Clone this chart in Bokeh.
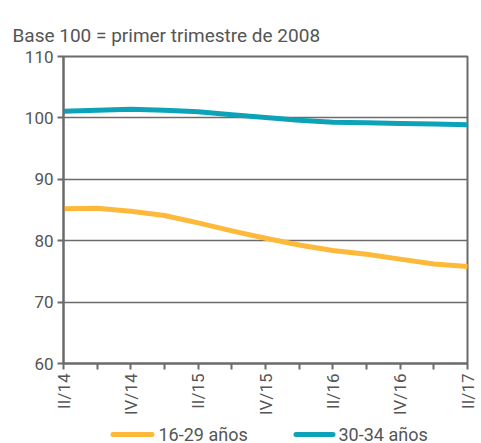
from bokeh.plotting import figure
from bokeh.layouts import column
from bokeh.models import FixedTicker, Range1d
from bokeh.core.properties import value
from bokeh.embed import file_html
from bokeh.resources import INLINE
import math

quarters = ["II/14", "III/14", "IV/14", "I/15", "II/15", "III/15", "IV/15",
            "I/16", "II/16", "III/16", "IV/16", "I/17", "II/17"]
serie_16_29 = [85.2, 85.3, 84.8, 84.1, 82.9, 81.6, 80.4, 79.3, 78.4, 77.8, 77.0, 76.2, 75.8]
serie_30_34 = [101.1, 101.25, 101.4, 101.25, 101.0, 100.5, 100.05, 99.6, 99.3, 99.2, 99.1, 99.0, 98.9]
series_names = ["16-29 años", "30-34 años"]
y_ticks = [60, 70, 80, 90, 100, 110]
title_text = "Base 100 = primer trimestre de 2008"

x = list(range(len(quarters)))
FONT = "Roboto"
TXT = "#555555"
AX = "#6b6b6b"
C_ORANGE = "#FDB93A"
C_TEAL = "#0CA3B9"

W = 481
H_MAIN = 421
H_LEG = 443 - H_MAIN
B_LEFT, B_RIGHT = 63, 14

# main chart
p = figure(width=W, height=H_MAIN, output_backend="svg", toolbar_location=None,
           x_range=Range1d(0, len(quarters) - 1), y_range=Range1d(60, 110),
           min_border_left=B_LEFT, min_border_right=B_RIGHT, min_border_top=56, min_border_bottom=58)
p.title.text = title_text
p.title.align = "left"
p.title.offset = -51
p.title.standoff = 20
p.title.text_font = FONT
p.title.text_font_size = "19px"
p.title.text_color = TXT
p.title.text_font_style = "normal"

p.line(x, serie_16_29, line_color=C_ORANGE, line_width=5, line_join="round", line_cap="round")
p.line(x, serie_30_34, line_color=C_TEAL, line_width=5, line_join="round", line_cap="round")

p.xaxis.ticker = FixedTicker(ticks=x)
p.xaxis.major_label_overrides = {i: (q if i % 2 == 0 else "") for i, q in zip(x, quarters)}
p.xaxis.major_label_orientation = math.pi / 2
p.yaxis.ticker = FixedTicker(ticks=y_ticks)
for ax in (p.xaxis, p.yaxis):
    ax.axis_line_color = AX
    ax.axis_line_width = 2
    ax.major_tick_line_color = AX
    ax.major_tick_line_width = 2
    ax.major_tick_out = 6
    ax.major_tick_in = 0
    ax.minor_tick_line_color = None
    ax.major_label_text_font = FONT
    ax.major_label_text_font_size = "17px"
    ax.major_label_text_color = TXT
    ax.major_label_standoff = 4
p.xgrid.grid_line_color = None
p.ygrid.grid_line_color = AX
p.ygrid.grid_line_width = 1.5
p.outline_line_color = AX
p.outline_line_width = 2
p.background_fill_color = "white"
p.border_fill_color = "white"

# legend strip (its frame is aligned with the main frame, so use page x coordinates)
p2 = figure(width=W, height=H_LEG, output_backend="svg", toolbar_location=None,
            x_range=Range1d(B_LEFT, W - B_RIGHT), y_range=Range1d(0, H_LEG),
            x_axis_location=None, y_axis_location=None,
            min_border_left=B_LEFT, min_border_right=B_RIGHT, min_border_top=0, min_border_bottom=0)
p2.grid.grid_line_color = None
p2.outline_line_color = None
p2.border_fill_color = "white"
p2.background_fill_color = "white"
leg_y = 9
leg_x0 = [112.5, 295.5]
leg_x1 = [151.5, 332.5]
leg_tx = [158, 338]
for x0, x1, c in zip(leg_x0, leg_x1, [C_ORANGE, C_TEAL]):
    p2.line([x0, x1], [leg_y, leg_y], line_color=c, line_width=5, line_cap="round")
p2.text(x=leg_tx, y=[leg_y, leg_y], text=series_names, text_font=value(FONT),
        text_font_size="18px", text_color=TXT, text_baseline="middle", text_align="left")

layout = column(p, p2, spacing=0)
html = file_html(layout, INLINE)
html = html.replace("<head>", "<head><style>html,body{overflow:hidden;}</style>", 1)
open("out.html", "w").write(html)
